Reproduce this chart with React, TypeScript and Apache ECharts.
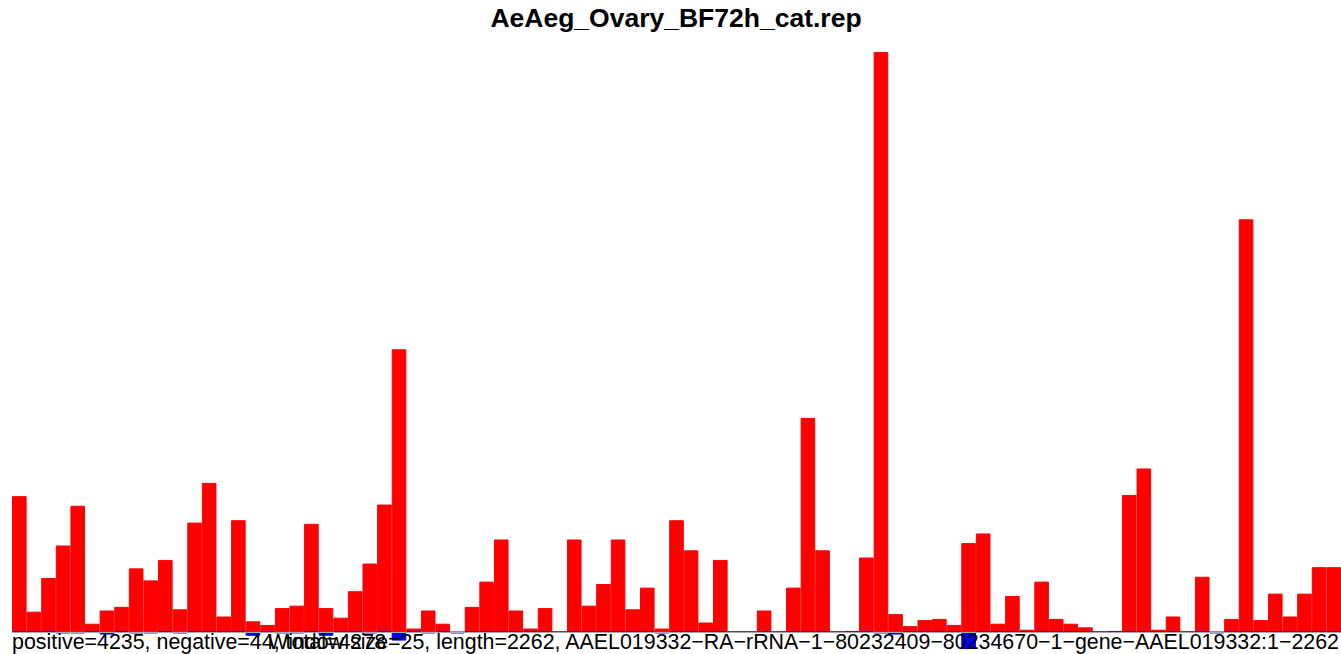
import React, { useEffect, useRef } from "react";
import * as echarts from "echarts";

const title = "AeAeg_Ovary_BF72h_cat.rep";
const leftNote = "positive=4235, negative=44, total=4278";
const rightNote =
  "Window size=25, length=2262, AAEL019332\u2212RA\u2212rRNA\u22121\u221280232409\u221280234670\u22121\u2212gene\u2212AAEL019332:1\u22122262";

// read counts per 25-nt window (91 windows)
const positive = [
  113, 17, 45, 72, 105, 7, 18, 21, 53, 43,
  60, 19, 91, 124, 13, 93, 9, 6, 20, 22,
  90, 20, 12, 34, 57, 106, 235, 3, 18, 7,
  0, 21, 42, 77, 18, 3, 20, 0, 77, 22,
  40, 77, 19, 37, 3, 93, 68, 8, 60, 0,
  0, 18, 0, 37, 178, 68, 0, 1, 62, 482,
  15, 5, 10, 11, 6, 74, 82, 7, 30, 2,
  42, 11, 7, 4, 0, 1, 114, 136, 2, 13,
  0, 46, 0, 11, 343, 10, 32, 13, 32, 54,
  54,
];

const negative = [
  0, 0, 0, -1, -1, 0, -2, 0, -1, -1,
  0, -1, 0, 0, 0, 0, -3, 0, -1, -1,
  0, -3, 0, 0, -1, 0, -7, 0, -1, 0,
  -1, 0, 0, 0, 0, 0, 0, 0, 0, 0,
  0, 0, 0, 0, -1, 0, 0, 0, 0, 0,
  0, 0, 0, 0, 0, 0, 0, 0, 0, -1,
  -2, 0, 0, 0, 0, -14, 0, 0, 0, 0,
  0, 0, 0, 0, 0, 0, 0, 0, 0, 0,
  0, 0, -1, 0, 0, 0, 0, 0, 0, 0,
  0,
];

const windows = positive.map((_, i) => String(i + 1));

export default function App() {
  const ref = useRef<HTMLDivElement>(null);
  useEffect(() => {
    if (!ref.current) return;
    const chart = echarts.init(ref.current, undefined, { renderer: "svg" });
    chart.setOption({
      animation: false,
      backgroundColor: "#ffffff",
      grid: { left: 12, right: 0, top: 52, bottom: 5, containLabel: false },
      xAxis: {
        type: "category",
        data: windows,
        z: 10,
        axisLine: { show: true, onZero: true, lineStyle: { color: "#a8a8a8", width: 1 } },
        axisTick: { show: false },
        axisLabel: { show: false },
        splitLine: { show: false },
      },
      yAxis: {
        type: "value",
        min: -14,
        max: 482,
        show: false,
        splitLine: { show: false },
      },
      series: [
        {
          type: "bar",
          data: positive,
          barWidth: "100%",
          barGap: "-100%",
          barCategoryGap: "0%",
          itemStyle: { color: "#ff0000", borderColor: "#ff0000", borderWidth: 1 },
        },
        {
          type: "bar",
          data: negative,
          barWidth: "100%",
          barGap: "-100%",
          barCategoryGap: "0%",
          itemStyle: { color: "#0000ff", borderColor: "#0000ff", borderWidth: 1 },
        },
      ],
      graphic: [
        {
          type: "text",
          style: {
            text: title,
            x: 676,
            y: 18,
            align: "center",
            verticalAlign: "middle",
            font: "bold 26.5px 'Liberation Sans', Arial, sans-serif",
            fill: "#000000",
          },
          z: 100,
        },
        {
          type: "text",
          style: {
            text: leftNote,
            x: 12,
            y: 642,
            align: "left",
            verticalAlign: "middle",
            font: "21.4px 'Liberation Sans', Arial, sans-serif",
            fill: "#000000",
          },
          z: 100,
        },
        {
          type: "text",
          style: {
            text: rightNote,
            x: 1339,
            y: 642,
            align: "right",
            verticalAlign: "middle",
            font: "21.4px 'Liberation Sans', Arial, sans-serif",
            fill: "#000000",
          },
          z: 100,
        },
      ],
    });
    return () => chart.dispose();
  }, []);
  return (
    <div
      ref={ref}
      style={{ position: "fixed", left: 0, top: 0, width: 1341, height: 654 }}
    />
  );
}
